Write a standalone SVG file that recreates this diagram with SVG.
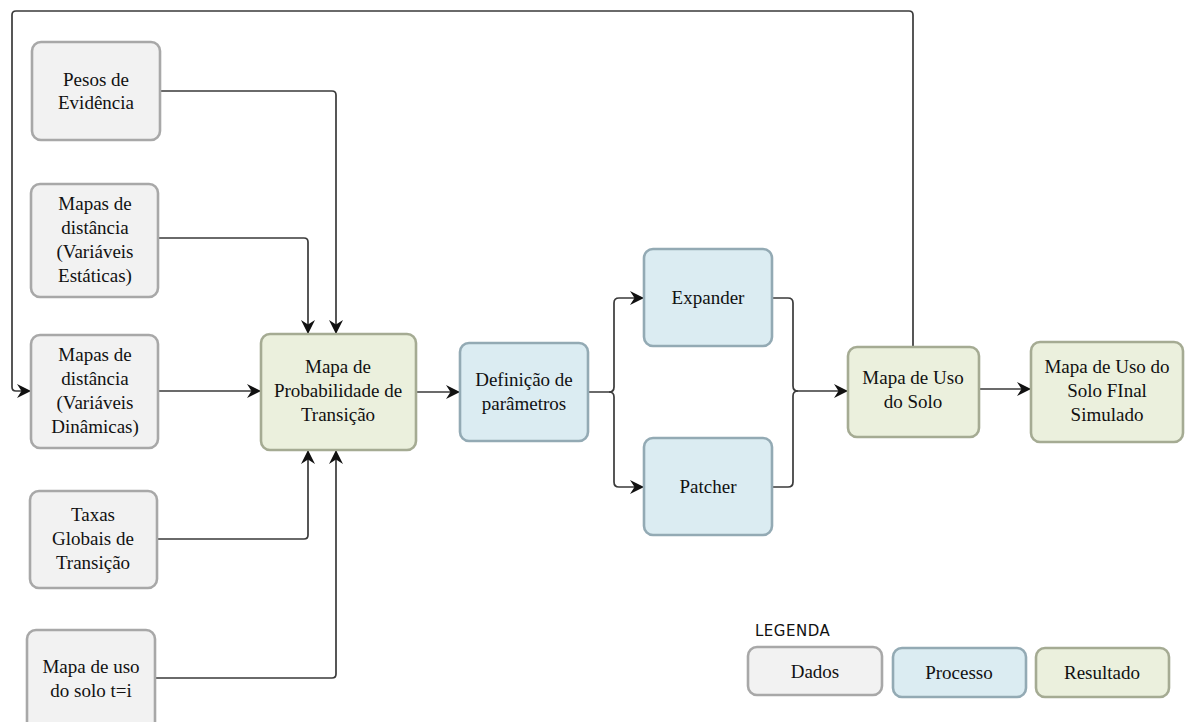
<svg xmlns="http://www.w3.org/2000/svg" width="1185" height="722" viewBox="0 0 1185 722">
  <style>
    .box { stroke-width: 2.6; }
    .dados { fill: #f2f2f2; stroke: #a8a8a8; }
    .processo { fill: #dbecf2; stroke: #93aab4; }
    .resultado { fill: #ebf0dd; stroke: #a5ab93; }
    .lbl { font-size: 19px; fill: #111; text-anchor: middle; }
    .legend-title { font-size: 15px; fill: #111; }
    .wire { fill: none; stroke: #3a3a3a; stroke-width: 1.7; }
  </style>
  <defs>
    <marker id="arrow" markerUnits="userSpaceOnUse" markerWidth="15" markerHeight="15" refX="14" refY="7.5" orient="auto">
      <path d="M0,0.5 L14,7.5 L0,14.5 L4.5,7.5 z" fill="#111"/>
    </marker>
  </defs>

  <rect width="1185" height="722" fill="#ffffff"/>

  <!-- connectors -->
  <g id="connectors">
    <path class="wire" d="M913,347 V15 Q913,11 909,11 H16 Q12,11 12,15 V387 Q12,391 16,391 H31" marker-end="url(#arrow)"/>
    <path class="wire" d="M160,91 H332 Q336,91 336,95 V334" marker-end="url(#arrow)"/>
    <path class="wire" d="M158,238 H304 Q308,238 308,242 V334" marker-end="url(#arrow)"/>
    <path class="wire" d="M158,391 H261" marker-end="url(#arrow)"/>
    <path class="wire" d="M157,539 H304 Q308,539 308,535 V450" marker-end="url(#arrow)"/>
    <path class="wire" d="M155,678 H332 Q336,678 336,674 V450" marker-end="url(#arrow)"/>
    <path class="wire" d="M416,392 H460" marker-end="url(#arrow)"/>
    <path class="wire" d="M588,392 H609 Q614,392 614,387 V303 Q614,298 619,298 H644" marker-end="url(#arrow)"/>
    <path class="wire" d="M609,392 Q614,392 614,397 V482 Q614,487 619,487 H644" marker-end="url(#arrow)"/>
    <path class="wire" d="M772,298 H788 Q793,298 793,303 V386 Q793,391 798,391"/>
    <path class="wire" d="M772,487 H788 Q793,487 793,482 V396 Q793,391 798,391 H848" marker-end="url(#arrow)"/>
    <path class="wire" d="M979,389 H1031" marker-end="url(#arrow)"/>
  </g>

  <g font-family="'Liberation Serif', 'DejaVu Serif', 'Noto Serif', serif">
  <!-- data inputs -->
  <g id="pesos">
    <rect class="box dados" x="32" y="42" width="128" height="98" rx="9"/>
    <text class="lbl" x="96" y="86">Pesos de</text>
    <text class="lbl" x="96" y="109">Evidência</text>
  </g>
  <g id="dist-estaticas">
    <rect class="box dados" x="31" y="184" width="127" height="113" rx="9"/>
    <text class="lbl" x="95" y="210">Mapas de</text>
    <text class="lbl" x="95" y="234">distância</text>
    <text class="lbl" x="95" y="258">(Variáveis</text>
    <text class="lbl" x="95" y="282">Estáticas)</text>
  </g>
  <g id="dist-dinamicas">
    <rect class="box dados" x="31" y="335" width="127" height="113" rx="9"/>
    <text class="lbl" x="95" y="361">Mapas de</text>
    <text class="lbl" x="95" y="385">distância</text>
    <text class="lbl" x="95" y="409">(Variáveis</text>
    <text class="lbl" x="95" y="433">Dinâmicas)</text>
  </g>
  <g id="taxas">
    <rect class="box dados" x="30" y="491" width="127" height="97" rx="9"/>
    <text class="lbl" x="93" y="521">Taxas</text>
    <text class="lbl" x="93" y="545">Globais de</text>
    <text class="lbl" x="93" y="569">Transição</text>
  </g>
  <g id="uso-ti">
    <rect class="box dados" x="27" y="630" width="128" height="104" rx="9"/>
    <text class="lbl" x="91" y="673">Mapa de uso</text>
    <text class="lbl" x="91" y="697">do solo t=i</text>
  </g>

  <!-- processing chain -->
  <g id="probabilidade">
    <rect class="box resultado" x="261" y="334" width="155" height="116" rx="9"/>
    <text class="lbl" x="338" y="373">Mapa de</text>
    <text class="lbl" x="338" y="397">Probabilidade de</text>
    <text class="lbl" x="338" y="421">Transição</text>
  </g>
  <g id="definicao">
    <rect class="box processo" x="460" y="343" width="128" height="98" rx="9"/>
    <text class="lbl" x="524" y="386">Definição de</text>
    <text class="lbl" x="524" y="410">parâmetros</text>
  </g>
  <g id="expander">
    <rect class="box processo" x="644" y="249" width="128" height="97" rx="9"/>
    <text class="lbl" x="708" y="304">Expander</text>
  </g>
  <g id="patcher">
    <rect class="box processo" x="644" y="438" width="128" height="97" rx="9"/>
    <text class="lbl" x="708" y="493">Patcher</text>
  </g>
  <g id="uso-solo">
    <rect class="box resultado" x="848" y="347" width="131" height="90" rx="9"/>
    <text class="lbl" x="913" y="384">Mapa de Uso</text>
    <text class="lbl" x="913" y="408">do Solo</text>
  </g>
  <g id="uso-final">
    <rect class="box resultado" x="1031" y="342" width="152" height="100" rx="9"/>
    <text class="lbl" x="1107" y="373">Mapa de Uso do</text>
    <text class="lbl" x="1107" y="397">Solo FInal</text>
    <text class="lbl" x="1107" y="421">Simulado</text>
  </g>

  <!-- legend -->
  <g id="legenda">
    <text class="legend-title" x="755" y="636" letter-spacing="0.5" font-family="'DejaVu Sans', 'Liberation Sans', sans-serif">LEGENDA</text>
    <rect class="box dados" x="748" y="647" width="134" height="48" rx="9"/>
    <text class="lbl" x="815" y="678">Dados</text>
    <rect class="box processo" x="893" y="648" width="133" height="49" rx="9"/>
    <text class="lbl" x="959" y="679">Processo</text>
    <rect class="box resultado" x="1036" y="648" width="133" height="49" rx="9"/>
    <text class="lbl" x="1102" y="679">Resultado</text>
  </g>
  </g>
</svg>
